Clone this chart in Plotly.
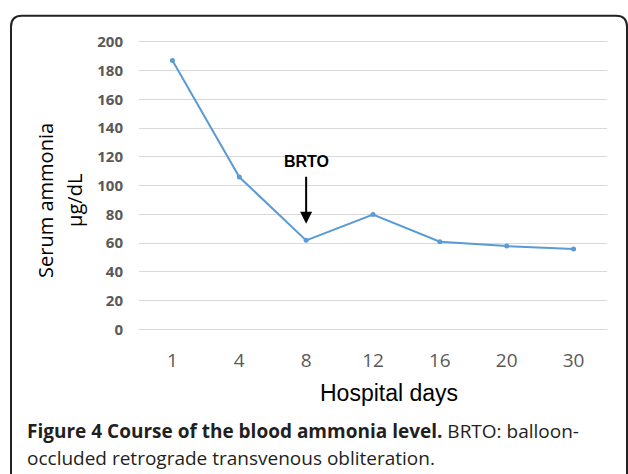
import plotly.graph_objects as go

days = ["1", "4", "8", "12", "16", "20", "30"]
ammonia = [187, 106, 62, 80, 61, 58, 56]
y_ticks = [0, 20, 40, 60, 80, 100, 120, 140, 160, 180, 200]

W, H = 628, 474
def px(x): return x / W
def py(y): return 1 - y / H

fig = go.Figure()
fig.add_trace(go.Scatter(
    x=days, y=ammonia, mode="lines+markers",
    line=dict(color="#5b9bd5", width=2),
    marker=dict(size=5, color="#5b9bd5"),
    showlegend=False, hoverinfo="skip"))

Y0, Y200 = 330, 39.3
upp = (Y0 - Y200) / 200  # pixels per unit
y_lo, y_hi = -5, 205
fig.update_layout(
    width=W, height=H, margin=dict(l=0, r=0, t=0, b=0),
    paper_bgcolor="white", plot_bgcolor="white",
    xaxis=dict(domain=[px(139), px(607)], type="category",
               range=[-0.5, 6.5], showgrid=False, zeroline=False, showline=False,
               ticks="", tickfont=dict(family="Open Sans", size=19, color="#595959"),
               ticklabelstandoff=10),
    yaxis=dict(domain=[py(Y0 + 5 * upp), py(Y200 - 5 * upp)], range=[y_lo, y_hi],
               tickvals=y_ticks, showgrid=True, gridcolor="#d9d9d9", gridwidth=1,
               zeroline=False, showline=False, ticks="",
               tickfont=dict(family="Open Sans", size=15, color="#595959", weight="bold"),
               ticklabelstandoff=15),
    font=dict(family="Liberation Sans"),
)

# BRTO arrow annotation
fig.add_annotation(x=2, y=(Y0 - 223) / upp, xref="x", yref="y",
                   text="<b>BRTO</b>", showarrow=True, arrowhead=2, arrowsize=1.2,
                   arrowwidth=2, arrowcolor="black", ax=0, ay=-62,
                   startstandoff=5,
                   font=dict(family="Liberation Sans", size=16, color="black"))

# Axis titles
fig.add_annotation(x=px(46), y=py(200), xref="paper", yref="paper",
                   xanchor="center", yanchor="middle",
                   text="Serum ammonia", textangle=-90, showarrow=False,
                   font=dict(family="Open Sans", size=20, color="black"))
fig.add_annotation(x=px(75), y=py(200), xref="paper", yref="paper",
                   xanchor="center", yanchor="middle",
                   text="µg/dL", textangle=-90, showarrow=False,
                   font=dict(family="Open Sans", size=20, color="black"))
fig.add_annotation(x=px(389), y=py(394), xref="paper", yref="paper",
                   xanchor="center", yanchor="middle",
                   text="Hospital days", showarrow=False,
                   font=dict(family="Liberation Sans", size=23, color="black"))

# Caption
fig.add_annotation(x=px(25), y=py(433), xref="paper", yref="paper",
                   xanchor="left", yanchor="middle",
                   text="<b>Figure 4 Course of the blood ammonia level.</b> BRTO: balloon-",
                   showarrow=False,
                   font=dict(family="Open Sans", size=19, color="#231f20"))
fig.add_annotation(x=px(25), y=py(460), xref="paper", yref="paper",
                   xanchor="left", yanchor="middle",
                   text="occluded retrograde transvenous obliteration.",
                   showarrow=False,
                   font=dict(family="Open Sans", size=19, color="#231f20"))

# Rounded frame
x0, x1 = px(11), px(627)
yt, yb = py(13), py(500)
rx, ry = 11 / W, 11 / H
path = (f"M {x0},{yb} L {x0},{yt - ry} Q {x0},{yt} {x0 + rx},{yt} "
        f"L {x1 - rx},{yt} Q {x1},{yt} {x1},{yt - ry} L {x1},{yb}")
fig.add_shape(type="path", path=path, xref="paper", yref="paper",
              line=dict(color="#222222", width=2))

fig.write_html("out.html", config={"displayModeBar": False},
               post_script="document.body.style.margin='0';"
                           "document.body.style.overflow='hidden';")
